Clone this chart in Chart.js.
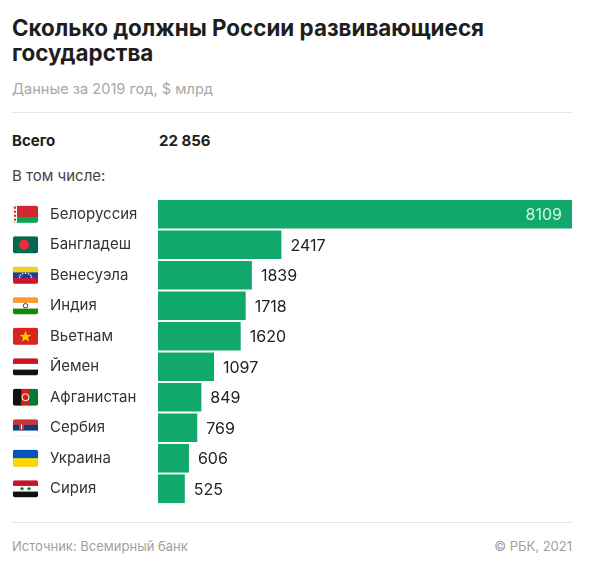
<!DOCTYPE html>
<html lang="ru">
<head>
<meta charset="utf-8">
<script src="https://cdn.jsdelivr.net/npm/chart.js@4"></script>
<style>
  body { margin: 0; background: #fff; font-family: Inter, "Noto Sans", sans-serif; }
  #page { position: relative; width: 600px; height: 571px; overflow: hidden; }
  .abs { position: absolute; white-space: nowrap; }
  #title { left: 12px; top: 14.5px; font-size: 22.4px; line-height: 25px; font-weight: 700; color: #1e1e1e; }
  #subtitle { left: 12px; top: 78.7px; font-size: 14.6px; line-height: 20px; color: #a8a8a8; }
  .rule { position: absolute; left: 12px; width: 560px; height: 1px; background: #e6e6e6; }
  #total-label { left: 12px; top: 131px; font-size: 15px; line-height: 20px; font-weight: 700; color: #1e1e1e; }
  #total-value { left: 159px; top: 131px; font-size: 15px; line-height: 20px; font-weight: 700; color: #1e1e1e; }
  #incl { left: 12px; top: 166px; font-size: 15px; line-height: 20px; color: #444; }
  #source { left: 12px; top: 537px; font-size: 13px; line-height: 18px; color: #a0a0a0; }
  #copy { right: 28px; top: 537px; font-size: 13px; line-height: 18px; color: #a0a0a0; }
  #chart-box { position: absolute; left: 0; top: 190px; width: 600px; height: 323px; }
</style>
</head>
<body>
<div id="page">
  <div id="title" class="abs">Сколько должны России развивающиеся<br>государства</div>
  <div id="subtitle" class="abs">Данные за 2019 год, $ млрд</div>
  <div class="rule" style="top:112px"></div>
  <div id="total-label" class="abs">Всего</div>
  <div id="total-value" class="abs">22 856</div>
  <div id="incl" class="abs">В том числе:</div>
  <div id="chart-box"><canvas id="debtChart" width="600" height="323"></canvas></div>
  <div class="rule" style="top:522px"></div>
  <div id="source" class="abs">Источник: Всемирный банк</div>
  <div id="copy" class="abs">© РБК, 2021</div>
</div>

<script>
// ---------------- данные ----------------
const countries = ["Белоруссия", "Бангладеш", "Венесуэла", "Индия", "Вьетнам",
  "Йемен", "Афганистан", "Сербия", "Украина", "Сирия"];
const debt = [8109, 2417, 1839, 1718, 1620, 1097, 849, 769, 606, 525];

// флаги: полосы (h - горизонтальные, v - вертикальные) + значок
const flags = [
  { dir: "h", stripes: ["#d22730", "#d22730", "#00a651"], mark: "by" },
  { dir: "h", stripes: ["#006a4e"], mark: "bd" },
  { dir: "h", stripes: ["#f7d117", "#1b3f9c", "#cf142b"], mark: "ve" },
  { dir: "h", stripes: ["#ff9933", "#ffffff", "#138808"], mark: "in" },
  { dir: "h", stripes: ["#da251d"], mark: "vn" },
  { dir: "h", stripes: ["#ce1126", "#ffffff", "#111111"] },
  { dir: "v", stripes: ["#111111", "#d32011", "#007a36"], mark: "af" },
  { dir: "h", stripes: ["#c6363c", "#0c4076", "#ffffff"], mark: "rs" },
  { dir: "h", stripes: ["#0057b7", "#ffd700"] },
  { dir: "h", stripes: ["#ce1126", "#ffffff", "#111111"], mark: "sy" },
];

function star(ctx, cx, cy, r, color) {
  ctx.beginPath();
  for (let i = 0; i < 10; i++) {
    const a = -Math.PI / 2 + (i * Math.PI) / 5;
    const rr = i % 2 === 0 ? r : r * 0.42;
    ctx.lineTo(cx + rr * Math.cos(a), cy + rr * Math.sin(a));
  }
  ctx.closePath();
  ctx.fillStyle = color;
  ctx.fill();
}

// ---------------- флаги слева от подписей ----------------
const flagPlugin = {
  id: "flags",
  afterDraw(chart) {
    const ctx = chart.ctx;
    const yScale = chart.scales.y;
    const w = 25, h = 17, x = 13;
    flags.forEach((f, i) => {
      const cy = yScale.getPixelForValue(i);
      const y = cy - h / 2;
      ctx.save();
      ctx.beginPath();
      ctx.roundRect(x, y, w, h, 2);
      ctx.clip();
      const n = f.stripes.length;
      f.stripes.forEach((c, k) => {
        ctx.fillStyle = c;
        if (f.dir === "h") ctx.fillRect(x, y + (h * k) / n, w, h / n + 0.5);
        else ctx.fillRect(x + (w * k) / n, y, w / n + 0.5, h);
      });
      if (f.mark === "by") {
        ctx.fillStyle = "#ffffff";
        ctx.fillRect(x, y, 4, h);
        ctx.fillStyle = "#d22730";
        for (let k = 0; k < 4; k++) ctx.fillRect(x + 1, y + 1 + k * 4, 2, 2);
      } else if (f.mark === "bd") {
        ctx.beginPath();
        ctx.arc(x + 11, cy, 5, 0, Math.PI * 2);
        ctx.fillStyle = "#f42a41";
        ctx.fill();
      } else if (f.mark === "ve") {
        for (let k = 0; k < 7; k++) {
          const a = Math.PI + (k * Math.PI) / 6;
          ctx.beginPath();
          ctx.arc(x + w / 2 + 6 * Math.cos(a), cy + 2 + 4 * Math.sin(a), 0.8, 0, Math.PI * 2);
          ctx.fillStyle = "#ffffff";
          ctx.fill();
        }
      } else if (f.mark === "in") {
        ctx.beginPath();
        ctx.arc(x + w / 2, cy, 2.2, 0, Math.PI * 2);
        ctx.strokeStyle = "#000080";
        ctx.lineWidth = 0.8;
        ctx.stroke();
      } else if (f.mark === "vn") {
        star(ctx, x + w / 2, cy + 0.5, 6, "#ffcd00");
      } else if (f.mark === "af") {
        ctx.beginPath();
        ctx.arc(x + w / 2, cy, 3.5, 0, Math.PI * 2);
        ctx.strokeStyle = "#ffffff";
        ctx.lineWidth = 1;
        ctx.stroke();
      } else if (f.mark === "rs") {
        ctx.fillStyle = "#c6363c";
        ctx.fillRect(x + 6, y + 4, 5, 7);
        ctx.fillStyle = "#ffffff";
        ctx.fillRect(x + 8, y + 5, 1, 5);
      } else if (f.mark === "sy") {
        star(ctx, x + 9, cy, 2.6, "#007a3d");
        star(ctx, x + 16, cy, 2.6, "#007a3d");
      }
      ctx.restore();
      ctx.save();
      ctx.strokeStyle = "rgba(0,0,0,0.12)";
      ctx.lineWidth = 0.5;
      ctx.beginPath();
      ctx.roundRect(x, y, w, h, 2);
      ctx.stroke();
      ctx.restore();
    });
  },
};

// ---------------- значения у столбцов ----------------
const valuePlugin = {
  id: "values",
  afterDatasetsDraw(chart) {
    const ctx = chart.ctx;
    const meta = chart.getDatasetMeta(0);
    ctx.save();
    ctx.font = "16px Inter";
    ctx.textBaseline = "middle";
    meta.data.forEach((bar, i) => {
      const v = chart.data.datasets[0].data[i];
      if (i === 0) {
        ctx.fillStyle = "#d6f2e4";
        ctx.textAlign = "right";
        ctx.fillText(v, bar.x - 10, bar.y + 1);
      } else {
        ctx.fillStyle = "#222222";
        ctx.textAlign = "left";
        ctx.fillText(v, bar.x + 9, bar.y + 1);
      }
    });
    ctx.restore();
  },
};

const config = {
  type: "bar",
  data: {
    labels: countries,
    datasets: [
      {
        data: debt,
        backgroundColor: "#10a86b",
        borderWidth: 0,
        barPercentage: 0.94,
        categoryPercentage: 1,
      },
    ],
  },
  options: {
    indexAxis: "y", //горизонтальный
    responsive: false,
    animation: false,
    devicePixelRatio: 1,
    layout: { padding: { left: 50, right: 28, top: 0, bottom: 0 } },
    plugins: {
      legend: { display: false },
      tooltip: { enabled: false },
    },
    scales: {
      x: {
        display: false,
        min: 0,
        max: Math.max(...debt),
      },
      y: {
        grid: { display: false },
        border: { display: false },
        ticks: {
          crossAlign: "far",
          padding: 0,
          color: "#333333",
          font: { family: "Inter", size: 15 },
        },
        afterFit(scale) {
          scale.width = 108;
        },
      },
    },
  },
  plugins: [flagPlugin, valuePlugin],
};

new Chart(document.getElementById("debtChart"), config);
</script>
</body>
</html>
